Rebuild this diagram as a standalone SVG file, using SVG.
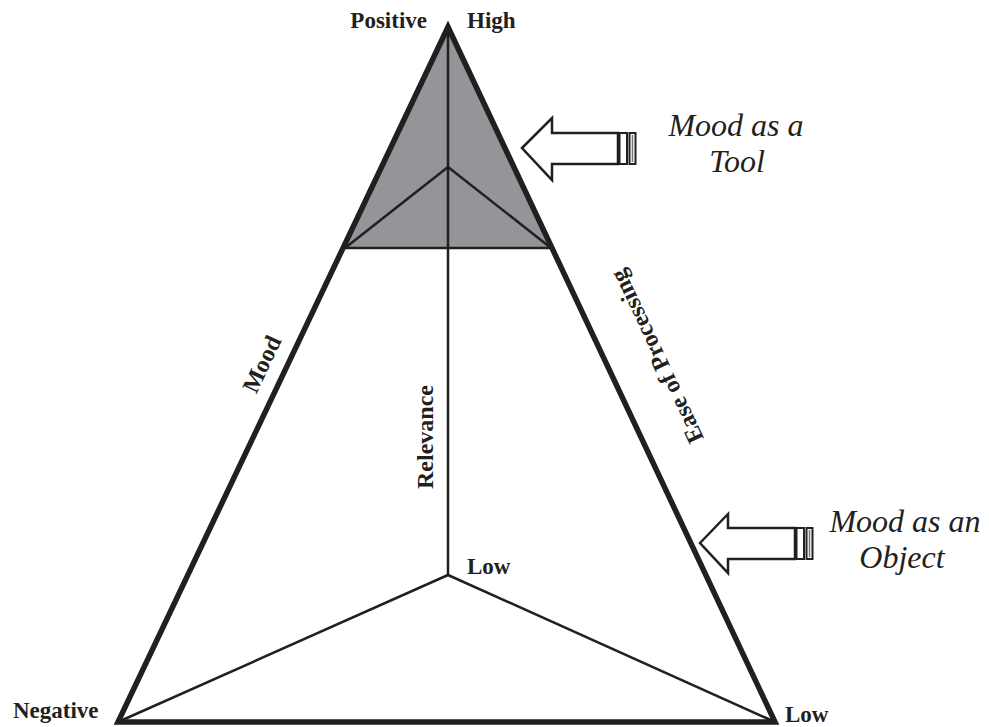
<svg xmlns="http://www.w3.org/2000/svg" width="989" height="727" viewBox="0 0 989 727">
<style>
.lbl{font-family:"Liberation Serif","Times New Roman",serif;font-weight:bold;font-size:23px;fill:#231f20}
.rl{font-family:"Liberation Serif","Times New Roman",serif;font-weight:bold;font-size:24px;fill:#231f20}
.it{font-family:"Liberation Serif","Times New Roman",serif;font-style:italic;font-size:32px;fill:#231f20}
.thin{stroke:#231f20;stroke-width:2.5;fill:none}
.arrow{fill:#fff;stroke:#231f20;stroke-width:2.5;stroke-linejoin:miter}
.stripe{fill:#fff;stroke:#231f20;stroke-width:2}
</style>
<rect width="989" height="727" fill="#fff"/>
<g id="triangle">
<polygon points="448,27 343,248 552,248" fill="#939598"/>
<line class="thin" x1="343" y1="248" x2="552" y2="248"/>
<line class="thin" x1="448" y1="167" x2="345" y2="248"/>
<line class="thin" x1="448" y1="167" x2="551" y2="248"/>
<line class="thin" x1="448" y1="27" x2="448" y2="575"/>
<line class="thin" x1="448" y1="575" x2="118" y2="722"/>
<line class="thin" x1="448" y1="575" x2="775" y2="722"/>
<polygon points="448,27 118,722 775,722" fill="none" stroke="#231f20" stroke-width="5.5" stroke-linejoin="miter" stroke-miterlimit="10"/>
</g>
<g id="labels">
<text class="lbl" x="427" y="28" text-anchor="end">Positive</text>
<text class="lbl" x="467" y="28">High</text>
<text class="lbl" x="13" y="718">Negative</text>
<text class="lbl" x="785" y="722">Low</text>
<text class="lbl" x="467" y="574">Low</text>
<text class="rl" transform="translate(269,367.5) rotate(-64.6)" text-anchor="middle">Mood</text>
<text class="rl" transform="translate(433,437) rotate(-90)" text-anchor="middle">Relevance</text>
<text class="rl" transform="translate(664,353) rotate(-115.2)" text-anchor="middle">Ease of Processing</text>
</g>
<g id="arrow-tool">
<polygon class="arrow" points="522,148 552,118 552,133 618,133 618,164 552,164 552,180"/>
<rect class="stripe" x="619.5" y="133" width="7.5" height="31"/>
<rect class="stripe" x="629.5" y="133" width="6" height="31"/>
<line x1="632.5" y1="135" x2="632.5" y2="162" stroke="#777" stroke-width="1.5"/>
<text class="it" x="736" y="136" text-anchor="middle">Mood as a</text>
<text class="it" x="737" y="172" text-anchor="middle">Tool</text>
</g>
<g id="arrow-object">
<polygon class="arrow" points="700,543 728,514 728,528 795,528 795,559 728,559 728,573"/>
<rect class="stripe" x="796.5" y="528" width="7.5" height="31"/>
<rect class="stripe" x="806.5" y="528" width="6" height="31"/>
<line x1="809.5" y1="530" x2="809.5" y2="557" stroke="#777" stroke-width="1.5"/>
<text class="it" x="905" y="532" text-anchor="middle">Mood as an</text>
<text class="it" x="902" y="568" text-anchor="middle">Object</text>
</g>
</svg>
